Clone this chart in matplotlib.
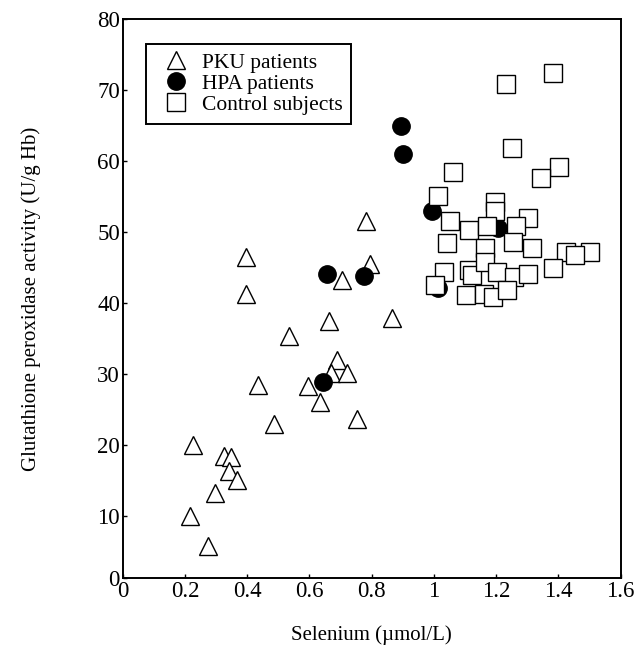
import matplotlib
matplotlib.use('Agg')
import matplotlib.pyplot as plt

# PKU patients (triangles)
pku_se = [0.395, 0.795, 0.706, 0.395, 0.664, 0.864, 0.535, 0.687, 0.669, 0.722,
          0.434, 0.596, 0.635, 0.754, 0.485, 0.226, 0.325, 0.347, 0.343, 0.367,
          0.295, 0.215, 0.274, 0.783]
pku_gpx = [46.5, 45.5, 43.3, 41.3, 37.4, 37.9, 35.4, 32.0, 30.1, 30.2,
           28.5, 28.3, 26.0, 23.6, 22.9, 20.0, 18.4, 18.3, 16.4, 15.0,
           13.3, 10.0, 5.8, 51.5]

# HPA patients (filled circles)
hpa_se = [0.656, 0.775, 0.645, 0.893, 0.901, 0.994, 1.207, 1.012]
hpa_gpx = [44.1, 43.8, 28.9, 64.9, 61.0, 52.9, 50.5, 42.1]

# control subjects (squares)
ctl_se = [1.232, 1.381, 1.252, 1.402, 1.344, 1.061, 1.013, 1.197, 1.197, 1.053,
          1.114, 1.172, 1.303, 1.263, 1.042, 1.165, 1.253, 1.314, 1.423, 1.503,
          1.453, 1.383, 1.032, 1.005, 1.114, 1.122, 1.165, 1.202, 1.256, 1.303,
          1.104, 1.162, 1.191, 1.234]
ctl_gpx = [70.8, 72.4, 61.9, 59.2, 57.6, 58.4, 55.1, 54.2, 53.0, 51.6,
           50.3, 50.9, 52.0, 50.8, 48.5, 47.8, 48.6, 47.7, 47.2, 47.2,
           46.7, 44.9, 44.3, 42.5, 44.7, 44.0, 45.8, 44.4, 43.7, 44.1,
           41.1, 41.3, 40.8, 41.9]

xticks = [0, 0.2, 0.4, 0.6, 0.8, 1.0, 1.2, 1.4, 1.6]
xticklabels = ['0', '0.2', '0.4', '0.6', '0.8', '1', '1.2', '1.4', '1.6']
# the scanned axis starts a little above zero, its corner is still labelled 0
ybottom = 1.27
yticks = [ybottom, 10, 20, 30, 40, 50, 60, 70, 80]
yticklabels = ['0', '10', '20', '30', '40', '50', '60', '70', '80']

plt.rcParams['font.family'] = ['Liberation Serif', 'DejaVu Serif']

fig = plt.figure(figsize=(6.43, 6.53), dpi=100)
ax = fig.add_axes([0.1908, 0.1149, 0.7745, 0.8560])

ax.plot(pku_se, pku_gpx, linestyle='none', marker='^', markersize=12.5,
        markerfacecolor='white', markeredgecolor='black', markeredgewidth=1.0,
        label='PKU patients', zorder=2)
ax.plot(hpa_se, hpa_gpx, linestyle='none', marker='o', markersize=12.5,
        markerfacecolor='black', markeredgecolor='black',
        label='HPA patients', zorder=3)
ax.plot(ctl_se, ctl_gpx, linestyle='none', marker='s', markersize=12.5,
        markerfacecolor='white', markeredgecolor='black', markeredgewidth=1.0,
        label='Control subjects', zorder=4)

ax.set_xlim(0, 1.6)
ax.set_ylim(ybottom, 80)
ax.set_xticks(xticks)
ax.set_xticklabels(xticklabels)
ax.set_yticks(yticks)
ax.set_yticklabels(yticklabels)
ax.tick_params(direction='in', length=3, width=1, labelsize=16.5, pad=2)
for s in ax.spines.values():
    s.set_linewidth(1.4)

ax.set_xlabel('Selenium (\u00b5mol/L)', fontsize=15, labelpad=17)
ax.set_ylabel('Glutathione peroxidase activity (U/g Hb)', fontsize=15, labelpad=40)

leg = ax.legend(loc='upper left', bbox_to_anchor=(0.0468, 0.9553), fontsize=15.5,
                frameon=True, fancybox=False, edgecolor='black', framealpha=1,
                handletextpad=0.18, borderpad=0.4, labelspacing=0.05,
                handlelength=2.0, borderaxespad=0)
leg.get_frame().set_linewidth(1.4)

fig.savefig('out.png', dpi=100)
